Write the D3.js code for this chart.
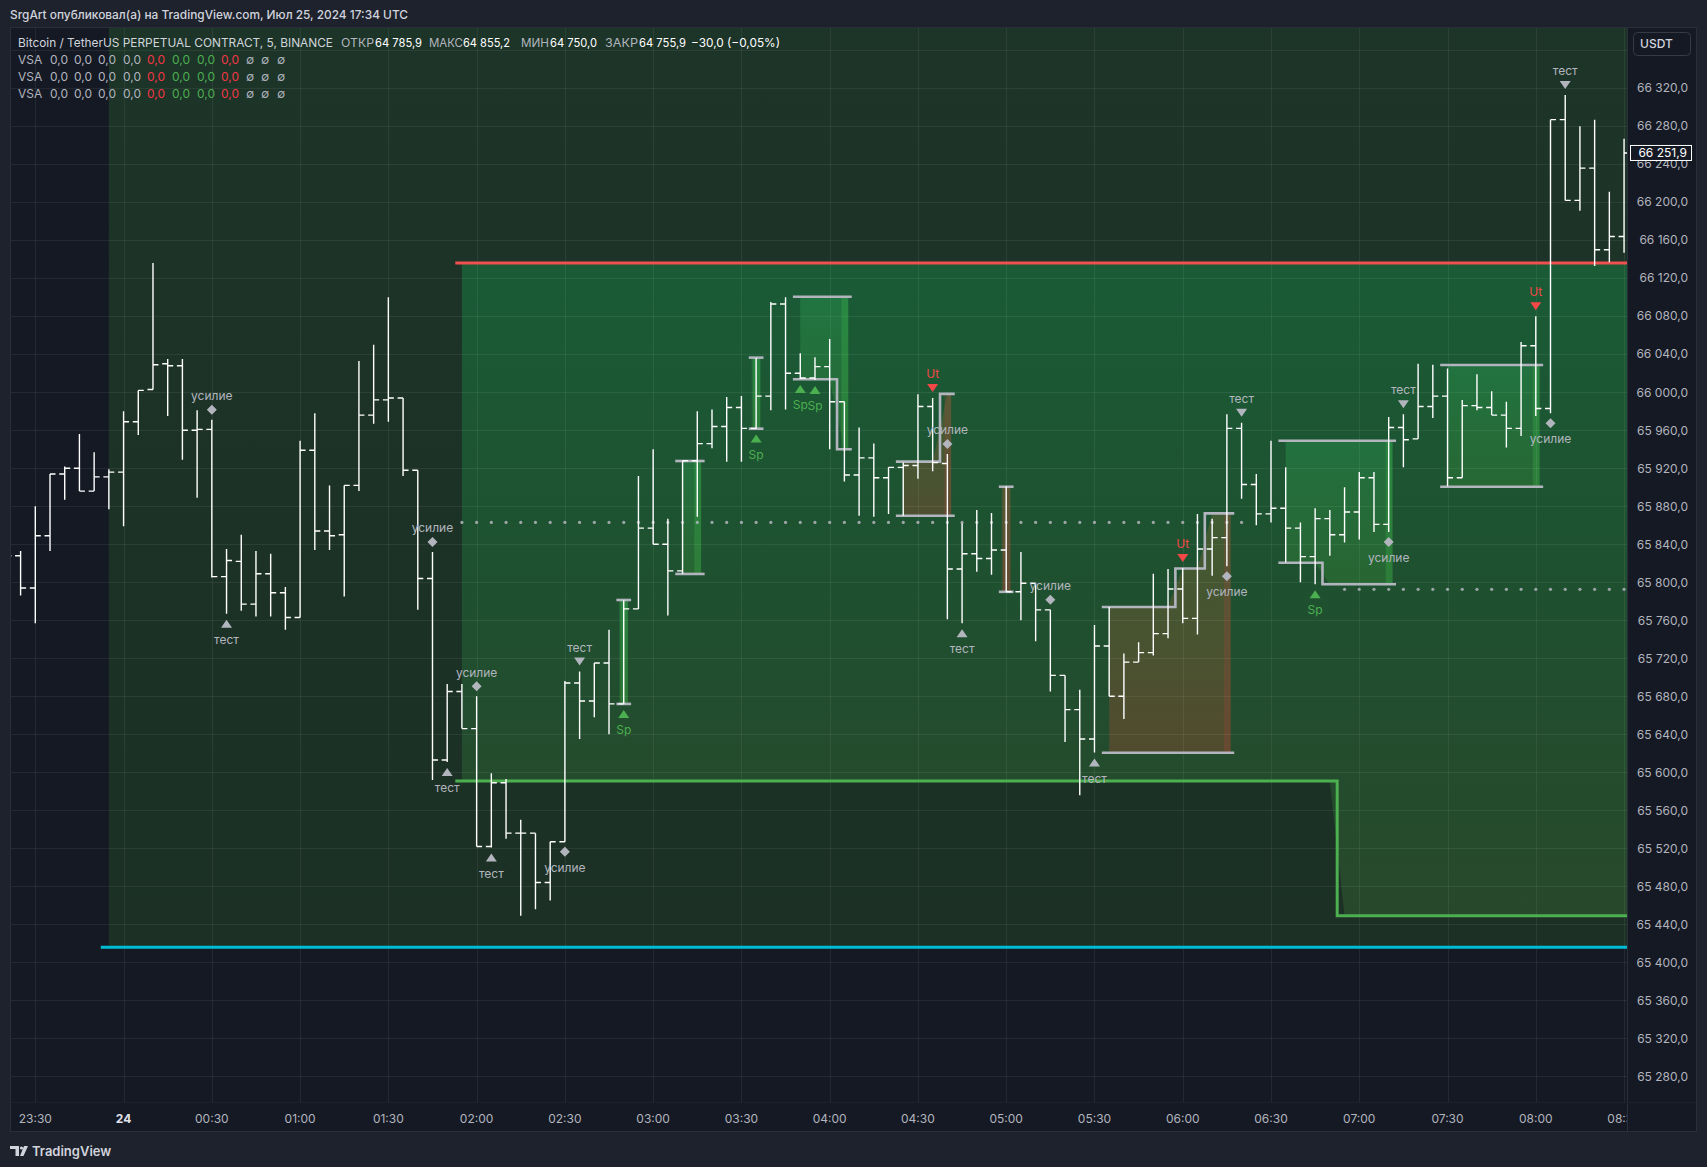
<!DOCTYPE html>
<html><head><meta charset="utf-8">
<script src="https://cdn.jsdelivr.net/npm/d3@7"></script>
<style>
html,body{margin:0;padding:0;background:#1e222d;}
svg{display:block;font-family:Inter,"Noto Sans",sans-serif;}
</style></head><body>
<svg id="c" width="1707" height="1167"></svg>
<script>
// ---------------- DATA ----------------
const barIndex = d3.range(-2, 109); // 5-minute bars, index 0 = 23:30
const opens = [65835,65828,65794,65849,65914,65920,65896,65911,65916,65969,66003,66030,66028,65960,65961,65806,65822,65777,65809,65789,
65763,65939,65854,65850,65902,65976,65992,65994,65918,65804,65613,65685,65646,65522,65589,65536,65536,65484,65527,65694,
65675,65715,65672,65772,65857,65840,65812,65928,65946,65964,65984,65962,65996,66093,66020,66015,66027,65990,65913,65931,
65910,65921,65923,65985,65925,65814,65830,65825,65834,65790,65799,65771,65702,65666,65635,65733,65680,65716,65726,65746,
65793,65762,65835,65847,65962,65903,65872,65878,65857,65827,65867,65850,65874,65910,65861,65963,65951,65985,65996,65910,
65986,65984,65976,65962,66049,65983,66287,66202,66236,66150,66164];
const highs = [65845,65833,65880,65914,65922,65956,65937,65919,65980,66002,66136,66035,66035,65981,65971,65835,65850,65833,65830,65795,
65949,65978,65902,65902,66033,66050,66100,65994,65918,65832,65693,65693,65680,65599,65593,65550,65536,65527,65696,65706,
65715,65750,65781,65912,65940,65867,65928,65980,65982,65995,65996,66036,66095,66100,66041,66037,66056,65990,65963,65946,
65921,65926,65998,65994,65935,65862,65876,65873,65901,65832,65799,65771,65702,65687,65755,65774,65725,65737,65809,65814,
65815,65872,65867,65977,65968,65914,65949,65921,65863,65878,65876,65900,65916,65916,65974,65977,66030,66029,66025,65992,
66019,66001,65990,66053,66080,66287,66313,66280,66287,66211,66267];
const lows = [65815,65786,65757,65833,65887,65896,65896,65877,65859,65955,66003,65975,65929,65889,65805,65767,65770,65764,65764,65750,
65763,65834,65834,65785,65896,65967,65969,65912,65771,65592,65611,65646,65522,65521,65530,65449,65456,65465,65527,65635,
65658,65640,65672,65772,65840,65765,65809,65869,65941,65927,65927,65962,65981,65982,66014,66013,65940,65906,65870,65869,
65872,65870,65909,65917,65761,65757,65811,65808,65790,65760,65738,65685,65632,65576,65621,65680,65656,65716,65723,65741,
65757,65745,65807,65817,65888,65860,65863,65821,65800,65798,65828,65842,65845,65853,65853,65921,65951,65973,65901,65910,
65981,65976,65942,65954,65975,65978,66202,66191,66133,66137,66147];
const closes = [65828,65794,65849,65914,65920,65896,65911,65916,65969,66002,66029,66028,65960,65961,65806,65823,65777,65809,65789,65763,
65939,65854,65849,65902,65976,65992,65994,65918,65804,65613,65685,65646,65522,65589,65536,65536,65484,65527,65694,65675,
65715,65672,65772,65857,65840,65812,65928,65946,65964,65984,65962,65996,66093,66020,66015,66027,65990,65913,65931,65910,
65921,65923,65985,65926,65814,65830,65825,65834,65790,65799,65771,65702,65666,65635,65733,65680,65716,65726,65746,65793,
65762,65835,65847,65962,65903,65872,65878,65857,65827,65867,65850,65874,65910,65861,65963,65950,65985,65996,65910,65986,
65984,65976,65962,66049,65983,66287,66202,66236,66150,66164,66251.9];

const timeTickBars = [0,6,12,18,24,30,36,42,48,54,60,66,72,78,84,90,96,102,108];
const timeTickLabels = ["23:30","24","00:30","01:00","01:30","02:00","02:30","03:00","03:30","04:00","04:30","05:00","05:30","06:00","06:30","07:00","07:30","08:00","08:30"];
const priceTicks = [66320,66280,66240,66200,66160,66120,66080,66040,66000,65960,65920,65880,65840,65800,65760,65720,65680,65640,65600,65560,65520,65480,65440,65400,65360,65320,65280];
const priceTickLabels = ["66 320,0","66 280,0","66 240,0","66 200,0","66 160,0","66 120,0","66 080,0","66 040,0","66 000,0","65 960,0","65 920,0","65 880,0","65 840,0","65 800,0","65 760,0","65 720,0","65 680,0","65 640,0","65 600,0","65 560,0","65 520,0","65 480,0","65 440,0","65 400,0","65 360,0","65 320,0","65 280,0"];
const gridPrices = [66360,66320,66280,66240,66200,66160,66120,66080,66040,66000,65960,65920,65880,65840,65800,65760,65720,65680,65640,65600,65560,65520,65480,65440,65400,65360,65320,65280];

// levels
const resistanceLevel = 66136;     // red
const supportStart = 28.55;
const supportSteps = [65591, 65449]; // green step
const supportStepAt = 88.5;
const baseLevel = 65416;           // cyan
const baseStart = 4.45;
const zoneStart = 5;               // shaded region start (bar)
const innerStart = 29;
const dotted1 = {from:29, to:82, price:65863};
const dotted2 = {from:89, to:108, price:65792.6};

// boxes
const boxKinds = ['g','g','g','g','b','b','b','g','g'];
const boxBars = [[40],[44,45],[49],[52,53,54,55],[59,60,61,62],[66],[73,74,75,76,77,78,79,80,81],[85,86,87,88,89,90,91,92],[96,97,98,99,100,101,102]];
const boxTops = [[65781.4],[65927.7,65927.7],[66036.5],[66100.6,66100.6,66100.6,66100.6],[65927,65927,65927,65998.3],[65900.6],
  [65774,65774,65774,65774,65774,65814.5,65814.5,65872.6,65872.6],[65949,65949,65949,65949,65949,65949,65949,65949],[66028.7,66028.7,66028.7,66028.7,66028.7,66028.7,66028.7]];
const boxBottoms = [[65672],[65808.8,65808.8],[65961.7],[66013.7,66013.7,66013.7,65940],[65870,65870,65870,65870],[65790],
  [65620.6,65620.6,65620.6,65620.6,65620.6,65620.6,65620.6,65620.6,65620.6],[65820.6,65820.6,65820.6,65798,65798,65798,65798,65798],[65900.6,65900.6,65900.6,65900.6,65900.6,65900.6,65900.6]];

// markers
const markerBars = [12,13,27,28,30,31,36,37,40,49,52,53,61,62,63,69,72,78,81,82,87,92,93,102,103,104];
const markerKinds = ['усилие','тест','усилие','тест','усилие','тест','усилие','тест','Sp','Sp','Sp','Sp','Ut','усилие','тест','усилие','тест','Ut','усилие','тест','Sp','усилие','тест','Ut','усилие','тест'];
const markerSides = ['above','below','above','below','above','below','below','above','below','below','below','below','above','above','below','above','below','above','below','above','below','below','above','above','below','above'];

const lastPrice = 66251.9, lastPriceLabel = "66 251,9";

// ---------------- LAYOUT ----------------
const PL=10, PR=1627, PT=27, PB=1102, AXR=1697, TAB=1132;
const x = d3.scaleLinear().domain([-1.72, 108.2]).range([PL, PR]);
const y = d3.scaleLinear().domain([65253, 66384.5]).range([PB, PT]);

const svg = d3.select('#c');
const defs = svg.append('defs');
function lg(id, stops, units, y1, y2){
  const g = defs.append('linearGradient').attr('id',id).attr('x1',0).attr('x2',0);
  if(units){ g.attr('gradientUnits','userSpaceOnUse').attr('y1',y1).attr('y2',y2); } else { g.attr('y1',0).attr('y2',1); }
  stops.forEach(([o,c,a])=>g.append('stop').attr('offset',o).attr('stop-color',c).attr('stop-opacity',a==null?1:a));
}
lg('outerG', [[0,'#1d3428'],[1,'#1c3025']], true, PT, y(baseLevel));
lg('innerG', [[0,'#1a5b36'],[0.55,'#1f4f2f'],[1,'#28482b']], true, y(resistanceLevel), y(supportSteps[1]));
lg('gBox', [[0,'#2fb35a',0.30],[1,'#3f9a3a',0.28]], false);
lg('bBox', [[0,'#7a6a36',0.38],[1,'#8a4a30',0.45]], false);
defs.append('clipPath').attr('id','plot').append('rect').attr('x',PL).attr('y',PT).attr('width',PR-PL).attr('height',PB-PT);
defs.append('clipPath').attr('id','tax').append('rect').attr('x',PL).attr('y',PB).attr('width',PR-PL).attr('height',TAB-PB);

// page
svg.append('rect').attr('width',1707).attr('height',1167).attr('fill','#1e222d');
svg.append('rect').attr('x',PL).attr('y',PT).attr('width',AXR-PL).attr('height',TAB-PT).attr('fill','#151924');

const plot = svg.append('g').attr('clip-path','url(#plot)');

// outer shaded zone
plot.append('rect').attr('x',x(zoneStart)).attr('y',PT).attr('width',PR-x(zoneStart)).attr('height',y(baseLevel)-PT).attr('fill','url(#outerG)');

// inner zone between resistance and support
const innerPts = barIndex.filter(k=>k>=innerStart).map(k=>({k, b: k<supportStepAt?supportSteps[0]:supportSteps[1]}));
innerPts.push({k:108.3, b:supportSteps[1]});
plot.append('path').attr('d', d3.area().x(d=>x(d.k)).y0(d=>y(d.b)).y1(y(resistanceLevel))(innerPts)).attr('fill','url(#innerG)');

// box fills
boxBars.forEach((bars,i)=>{
  let pts = bars.map((k,j)=>({k, t:boxTops[i][j], b:boxBottoms[i][j]}));
  const last = pts[pts.length-1];
  if(pts.length===1){ pts=[{k:last.k-0.3,t:last.t,b:last.b},{k:last.k+0.3,t:last.t,b:last.b}]; }
  else pts.push({k:last.k+0.25,t:last.t,b:last.b});
  plot.append('path').attr('d', d3.area().x(d=>x(d.k)).y0(d=>y(d.b)).y1(d=>y(d.t))(pts))
    .attr('fill', boxKinds[i]==='g'?'url(#gBox)':'url(#bBox)');
  plot.append('rect').attr('x',x(last.k)-3).attr('width',7).attr('y',y(last.t)).attr('height',y(last.b)-y(last.t))
    .attr('fill', boxKinds[i]==='g'?'#3fc24a':'#b8443a').attr('opacity', boxKinds[i]==='g'?0.25:0.22);
});

// grid
const grid = plot.append('g').attr('stroke','#ffffff').attr('stroke-opacity',0.065).attr('stroke-width',1);
gridPrices.forEach(p=>grid.append('line').attr('x1',PL).attr('x2',PR).attr('y1',Math.round(y(p))+0.5).attr('y2',Math.round(y(p))+0.5));
timeTickBars.forEach(k=>grid.append('line').attr('x1',Math.round(x(k))+0.5).attr('x2',Math.round(x(k))+0.5).attr('y1',PT).attr('y2',PB));

// levels
plot.append('line').attr('x1',x(baseStart)).attr('x2',PR).attr('y1',y(baseLevel)).attr('y2',y(baseLevel)).attr('stroke','#00bcd4').attr('stroke-width',3);
plot.append('line').attr('x1',x(supportStart)).attr('x2',PR).attr('y1',y(resistanceLevel)).attr('y2',y(resistanceLevel)).attr('stroke','#f0504f').attr('stroke-width',3);
const supPath = [[supportStart,supportSteps[0]],[supportStepAt,supportSteps[0]],[supportStepAt,supportSteps[1]],[108.3,supportSteps[1]]];
plot.append('path').attr('d', d3.line().x(d=>x(d[0])).y(d=>y(d[1]))(supPath)).attr('fill','none').attr('stroke','#4caf50').attr('stroke-width',3);

// dotted lines
[dotted1,dotted2].forEach(dl=>{
  d3.range(dl.from, dl.to+1).forEach(k=>plot.append('circle').attr('cx',x(k)).attr('cy',y(dl.price)).attr('r',1.6).attr('fill','#b2b5be').attr('opacity',0.85));
});

// box outlines
boxBars.forEach((bars,i)=>{
  const tp=[], bp=[];
  bars.forEach((k,j)=>{ tp.push([k-0.5,boxTops[i][j]],[k+0.5,boxTops[i][j]]); bp.push([k-0.5,boxBottoms[i][j]],[k+0.5,boxBottoms[i][j]]); });
  const ln = d3.line().x(d=>x(d[0])).y(d=>y(d[1]));
  [tp,bp].forEach(p=>plot.append('path').attr('d',ln(p)).attr('fill','none').attr('stroke','#b2b5be').attr('stroke-width',2.6));
});

// OHLC bars
const bars = plot.append('g').attr('stroke','#ffffff').attr('stroke-width',1.4).attr('fill','none');
barIndex.forEach((k,i)=>{
  const cx = x(k);
  bars.append('path').attr('d',`M${cx},${y(highs[i])}V${y(lows[i])}M${cx-5.5},${y(opens[i])}H${cx}M${cx},${y(closes[i])}H${cx+5.5}`);
});

// markers
const mk = plot.append('g');
markerBars.forEach((k,i)=>{
  const idx = barIndex.indexOf(k);
  const kind = markerKinds[i], side = markerSides[i];
  const cx = x(k);
  const my = side==='above' ? y(highs[idx])-10 : y(lows[idx])+10;
  const ty = side==='above' ? y(highs[idx])-24 : y(lows[idx])+26;
  const col = kind==='Sp' ? '#4caf50' : kind==='Ut' ? '#f44747' : '#b2b5be';
  let d;
  if(kind==='усилие') d = `M${cx},${my-5}L${cx+5},${my}L${cx},${my+5}L${cx-5},${my}Z`;
  else if(side==='above') d = `M${cx-5.5},${my-4}L${cx+5.5},${my-4}L${cx},${my+4}Z`;
  else d = `M${cx-5.5},${my+4}L${cx+5.5},${my+4}L${cx},${my-4}Z`;
  mk.append('path').attr('d',d).attr('fill',col);
  mk.append('text').attr('x',cx).attr('y',ty).attr('dy','0.35em').attr('text-anchor','middle').attr('font-size',12).attr('fill',col).text(kind);
});

// axes separators
svg.append('line').attr('x1',PR+0.5).attr('x2',PR+0.5).attr('y1',PT).attr('y2',TAB).attr('stroke','#2a2e39');
svg.append('line').attr('x1',PL).attr('x2',AXR).attr('y1',PB+0.5).attr('y2',PB+0.5).attr('stroke','#1c202b');
svg.append('rect').attr('x',PL+0.5).attr('y',PT+0.5).attr('width',AXR-PL-1).attr('height',TAB-PT-1).attr('fill','none').attr('stroke','#2a2e39');

// price axis
const pax = svg.append('g').attr('font-size',12).attr('fill','#b2b5be').attr('text-anchor','end');
priceTicks.forEach((p,i)=>pax.append('text').attr('x',1688).attr('y',y(p)).attr('dy','0.35em').text(priceTickLabels[i]));
svg.append('rect').attr('x',1633.5).attr('y',32.5).attr('width',57).attr('height',23).attr('rx',4).attr('fill','#151924').attr('stroke','#363a45');
svg.append('text').attr('x',1640).attr('y',44).attr('dy','0.35em').attr('font-size',12).attr('font-weight',500).attr('fill','#d1d4dc').text('USDT');
svg.append('rect').attr('x',1630.5).attr('y',y(lastPrice)-7.5).attr('width',61).attr('height',15).attr('fill','#151924').attr('stroke','#ffffff');
svg.append('text').attr('x',1687).attr('y',y(lastPrice)).attr('dy','0.35em').attr('text-anchor','end').attr('font-size',12).attr('fill','#ffffff').text(lastPriceLabel);

// time axis
const tax = svg.append('g').attr('clip-path','url(#tax)').attr('font-size',12).attr('text-anchor','middle');
timeTickBars.forEach((k,i)=>tax.append('text').attr('x',x(k)).attr('y',1119).attr('dy','0.35em')
  .attr('fill', timeTickLabels[i]==='24'?'#e0e3eb':'#b2b5be').attr('font-weight', timeTickLabels[i]==='24'?700:400).text(timeTickLabels[i]));

// header
svg.append('text').attr('x',10).attr('y',15).attr('dy','0.35em').attr('font-size',12).attr('font-weight',500).attr('fill','#d1d4dc')
  .attr('textLength',398).attr('lengthAdjust','spacingAndGlyphs')
  .text('SrgArt опубликовал(а) на TradingView.com, Июл 25, 2024 17:34 UTC');

// legend
const leg = svg.append('g').attr('font-size',12);
const l1 = [[18,'Bitcoin / TetherUS PERPETUAL CONTRACT, 5, BINANCE','#d1d4dc',315],[341,'ОТКР','#b2b5be',33],[375,'64 785,9','#ffffff',47],
  [429,'МАКС','#b2b5be',34],[463,'64 855,2','#ffffff',47],[521,'МИН','#b2b5be',28],[550,'64 750,0','#ffffff',47],[605,'ЗАКР','#b2b5be',33],[639,'64 755,9','#ffffff',47],[691,'−30,0 (−0,05%)','#ffffff',89]];
l1.forEach(([lx,t,c,w])=>leg.append('text').attr('x',lx).attr('y',43).attr('dy','0.35em').attr('fill',c)
  .attr('textLength',w).attr('lengthAdjust','spacingAndGlyphs').text(t));
const vsaX = [18,50,74,98,123,147,172,197,221,246,261,277];
const vsaT = ['VSA','0,0','0,0','0,0','0,0','0,0','0,0','0,0','0,0','∅','∅','∅'];
const vsaC = ['#b2b5be','#b2b5be','#b2b5be','#b2b5be','#b2b5be','#f23645','#4caf50','#4caf50','#f23645','#b2b5be','#b2b5be','#b2b5be'];
[60,77,94].forEach(ry=>vsaX.forEach((vx,i)=>leg.append('text').attr('x',vx).attr('y',ry).attr('dy','0.35em').attr('fill',vsaC[i]).text(vsaT[i])));

// footer logo
const lgo = svg.append('g').attr('fill','#d1d4dc');
lgo.append('path').attr('d','M10,1146H19V1156H15.5V1149H10Z');
lgo.append('circle').attr('cx',21.5).attr('cy',1148).attr('r',1.6);
lgo.append('path').attr('d','M24,1146H28L23.5,1156H20Z');
svg.append('text').attr('x',32).attr('y',1151).attr('dy','0.35em').attr('font-size',13).attr('font-weight',600).attr('fill','#d1d4dc').text('TradingView');
</script>
</body></html>
